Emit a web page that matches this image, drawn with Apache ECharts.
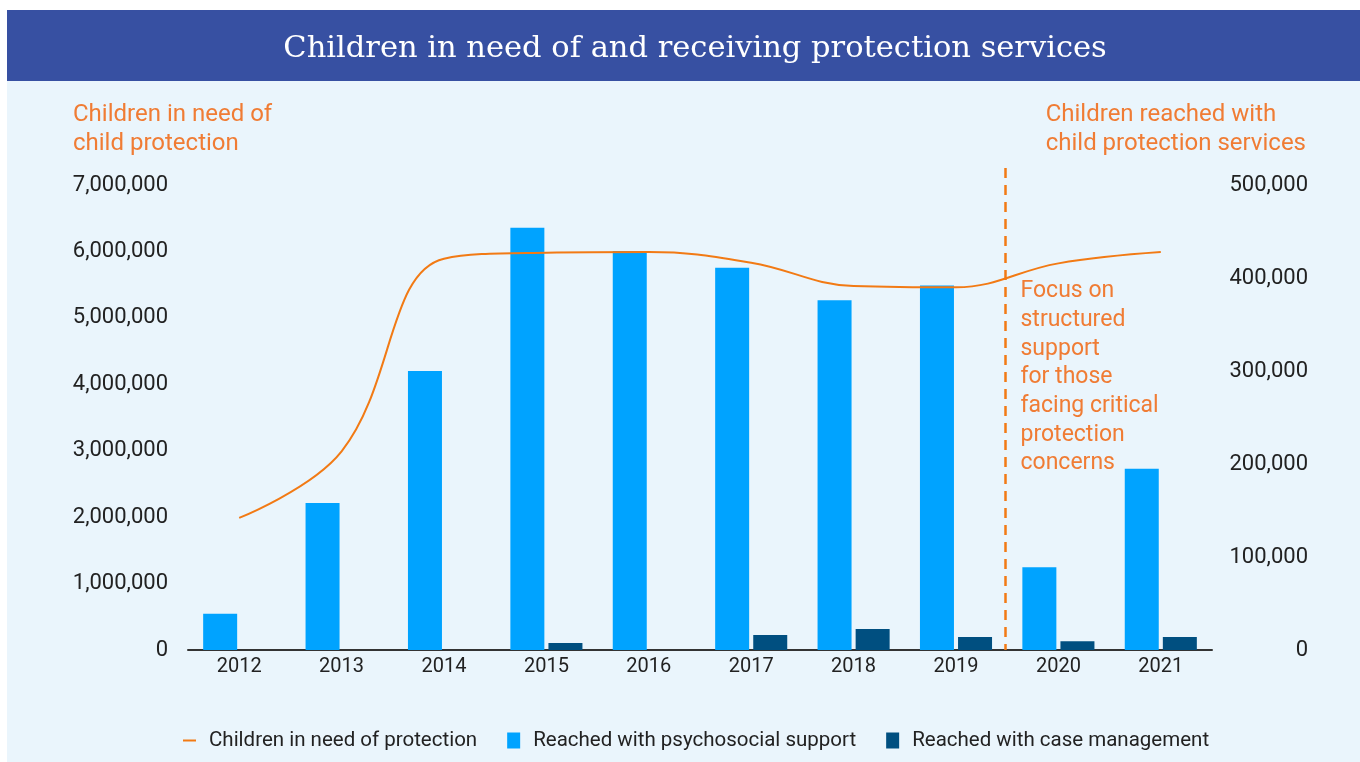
<!DOCTYPE html>
<html>
<head>
<meta charset="utf-8">
<style>
  html, body { margin: 0; padding: 0; background: #fff; }
  #chart { width: 1360px; height: 762px; }
</style>
<script src="https://cdn.jsdelivr.net/npm/echarts@6/dist/echarts.min.js"></script>
</head>
<body>
<div id="chart"></div>
<script>
const years = ['2012', '2013', '2014', '2015', '2016', '2017', '2018', '2019', '2020', '2021'];
const inNeed = [1990000, 2990000, 5890000, 5980000, 5990000, 5830000, 5480000, 5460000, 5820000, 5990000];
const psychosocial = [39000, 158000, 300000, 454000, 429000, 411000, 376000, 392000, 89000, 195000];
const caseManagement = [0, 0, 0, 7500, 0, 16000, 22500, 14000, 9500, 14000];
const leftTicks = { min: 0, max: 7000000, interval: 1000000 };
const rightTicks = { min: 0, max: 500000, interval: 100000 };
const annotation = ['Focus on', 'structured', 'support', 'for those', 'facing critical', 'protection', 'concerns'];

const ORANGE = '#f27a14';
const TEXT_ORANGE = '#f07c34';
const LIGHT = '#00a3ff';
const DARK = '#004f80';
const FONT = 'Roboto, "Liberation Sans", sans-serif';

const chart = echarts.init(document.getElementById('chart'), null, { renderer: 'canvas' });

const fmt = v => Number(v).toLocaleString('en-US');

const option = {
  backgroundColor: '#ffffff',
  animation: false,
  textStyle: { fontFamily: FONT },
  title: {
    text: 'Children in need of and receiving protection services',
    left: 690,
    top: 29,
    textAlign: 'center',
    textStyle: {
      color: '#ffffff',
      fontFamily: '"DejaVu Serif", "Liberation Serif", serif',
      fontSize: 30.5,
      fontWeight: 'normal'
    }
  },
  legend: {
    left: 178,
    top: 725,
    itemWidth: 13,
    itemHeight: 16,
    itemGap: 30,
    symbolKeepAspect: true,
    textStyle: { fontSize: 20.5, color: '#222', padding: [0, 0, 0, 8] },
    data: [
      { name: 'Children in need of protection', icon: 'path://M0,0 L13,0 L13,2 L0,2 Z' },
      { name: 'Reached with psychosocial support', icon: 'rect' },
      { name: 'Reached with case management', icon: 'rect' }
    ]
  },
  grid: { left: 188, right: 148, top: 185, bottom: 112 },
  xAxis: {
    type: 'category',
    data: years,
    axisLine: { lineStyle: { color: '#333', width: 2 } },
    axisTick: { show: false },
    axisLabel: { color: '#222', fontSize: 20, margin: 7 }
  },
  yAxis: [
    {
      type: 'value',
      min: leftTicks.min, max: leftTicks.max, interval: leftTicks.interval,
      axisLine: { show: false },
      axisTick: { show: false },
      splitLine: { show: false },
      axisLabel: { color: '#222', fontSize: 22, margin: 20, formatter: fmt }
    },
    {
      type: 'value',
      position: 'right',
      min: rightTicks.min, max: rightTicks.max, interval: rightTicks.interval,
      axisLine: { show: false },
      axisTick: { show: false },
      splitLine: { show: false },
      axisLabel: { color: '#222', fontSize: 22, margin: 96, align: 'right', formatter: fmt }
    }
  ],
  series: [
    {
      name: 'Reached with psychosocial support',
      type: 'bar',
      yAxisIndex: 1,
      data: psychosocial,
      barWidth: 34,
      barGap: '12%',
      itemStyle: { color: LIGHT }
    },
    {
      name: 'Reached with case management',
      type: 'bar',
      yAxisIndex: 1,
      data: caseManagement,
      barWidth: 34,
      itemStyle: { color: DARK }
    },
    {
      name: 'Children in need of protection',
      type: 'line',
      yAxisIndex: 0,
      data: inNeed,
      smooth: 0.4,
      symbol: 'none',
      z: 5,
      lineStyle: { color: ORANGE, width: 2 },
      itemStyle: { color: ORANGE }
    }
  ]
};

chart.setOption(option);

// divider between 2019 and 2020, plus the annotation next to it
const x19 = chart.convertToPixel({ xAxisIndex: 0 }, '2019');
const x20 = chart.convertToPixel({ xAxisIndex: 0 }, '2020');
const divX = Math.round((x19 + x20) / 2) - 1.5;
const baseY = chart.convertToPixel({ yAxisIndex: 0 }, 0);

chart.setOption({
  graphic: [
    { type: 'rect', z: -10, silent: true, shape: { x: 7, y: 10, width: 1353, height: 752 }, style: { fill: '#eaf5fc' } },
    { type: 'rect', z: -9, silent: true, shape: { x: 7, y: 10, width: 1353, height: 71 }, style: { fill: '#3750a2' } },
    {
      type: 'text', left: 73, top: 100, silent: true,
      style: { text: 'Children in need of\nchild protection', fill: TEXT_ORANGE, fontSize: 24, lineHeight: 29, fontFamily: FONT }
    },
    {
      type: 'text', right: 54, top: 100, silent: true,
      style: { text: 'Children reached with\nchild protection services', fill: TEXT_ORANGE, fontSize: 24, lineHeight: 29, align: 'right', fontFamily: FONT }
    },
    {
      type: 'line', silent: true, z: 4,
      shape: { x1: divX, y1: 168, x2: divX, y2: baseY },
      style: { stroke: ORANGE, lineWidth: 2.5, lineDash: [10, 7] }
    },
    {
      type: 'text', left: divX + 15, top: 277, silent: true,
      style: { text: annotation.join('\n'), fill: TEXT_ORANGE, fontSize: 23, lineHeight: 28.7, fontFamily: FONT }
    }
  ]
});
</script>
</body>
</html>
